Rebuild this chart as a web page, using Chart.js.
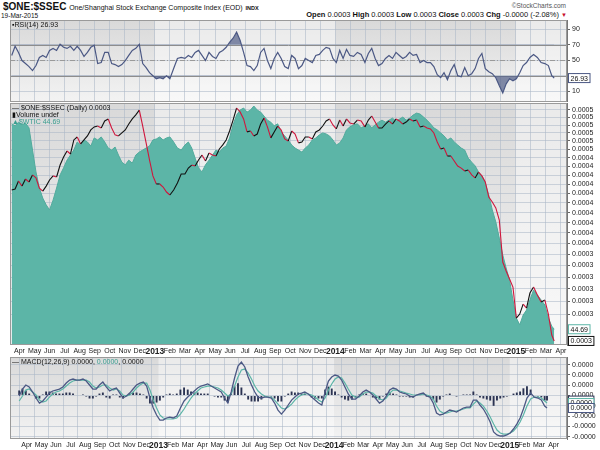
<!DOCTYPE html>
<html>
<head>
<meta charset="utf-8">
<script src="https://cdn.jsdelivr.net/npm/chart.js@4.4.1/dist/chart.umd.min.js"></script>
<style>
body{margin:0;background:#fff;width:600px;height:450px;position:relative;overflow:hidden;font-family:'Liberation Sans',Arial,sans-serif;color:#111}
canvas{position:absolute;left:0}
.t{position:absolute;white-space:nowrap;line-height:1}
</style>
</head>
<body>
<div class="t" style="left:3px;top:2px;font-size:10px;line-height:10px"><b>$ONE:$SSEC</b> <span style="font-size:7px">One/Shanghai Stock Exchange Composite Index (EOD)</span> <b style="font-size:5.5px">INDX</b></div>
<div class="t" style="left:1px;top:12px;font-size:6.5px;line-height:7px">19-Mar-2015</div>
<div class="t" style="right:34px;top:3px;font-size:6.5px;color:#555">©StockCharts.com</div>
<div class="t" style="right:33px;top:11px;font-size:7.5px;line-height:8px"><b>Open</b> 0.0003 <b>High</b> 0.0003 <b>Low</b> 0.0003 <b>Close</b> 0.0003 <b>Chg</b> -0.0000 (-2.08%) <span style="color:#c8102e;font-size:6px">&#9660;</span></div>

<canvas id="rsi" width="600" height="82" style="top:20px"></canvas>
<canvas id="main" width="600" height="254" style="top:103px"></canvas>
<canvas id="macd" width="600" height="94" style="top:357px"></canvas>

<div class="t" style="left:12px;top:21px;font-size:7px">&#9642;RSI(14) 26.93</div>
<div class="t" style="left:12px;top:104px;font-size:7px">&#8212; $ONE:$SSEC (Daily) 0.0003</div>
<div class="t" style="left:12px;top:111px;font-size:7px">&#9646;Volume undef</div>
<div class="t" style="left:12px;top:118px;font-size:7px;color:#3a9e90">&#9650;$WTIC 44.69</div>
<div class="t" style="left:12px;top:358px;font-size:7px">&#8212; MACD(12,26,9) 0.0000, <span style="color:#3a9e90">0.0000</span>, 0.0000</div>

<script>
// weekly samples (Fridays from 16-Mar-2012) plus the last day, 18-Mar-2015
const dates = [];
for (let i = 0; i < 157; i++) dates.push(new Date(2012, 2, 16 + 7 * i));
dates.push(new Date(2015, 2, 18));

// SSEC closes; the plotted symbol $ONE:$SSEC is 1 / SSEC
const ssec = [2478,2471,2419,2452,2406,2425,2380,2399,2465,2485,
  2452,2412,2386,2393,2318,2269,2233,2251,2168,2151,
  2191,2168,2145,2111,2094,2089,2100,2061,2050,2100,
  2139,2145,2128,2111,2078,2050,2028,2002,2089,2185,
  2287,2386,2438,2438,2458,2491,2511,2478,2432,2374,
  2374,2337,2318,2324,2287,2257,2293,2245,2257,2263,
  2221,2197,2168,2117,2056,1991,2012,2050,2122,2117,
  2145,2134,2078,2045,2094,2156,2122,2089,2111,2162,
  2174,2117,2134,2185,2180,2151,2151,2162,2122,2111,
  2089,2061,2050,2083,2105,2056,2089,2050,2072,2078,
  2056,2061,2094,2056,2034,2067,2100,2100,2078,2061,
  2078,2050,2061,2078,2067,2050,2061,2056,2094,2089,
  2100,2105,2128,2180,2221,2215,2263,2263,2293,2324,
  2337,2355,2349,2380,2399,2362,2386,2425,2525,2558,
  2599,2684,3002,3075,3141,3209,3486,3449,3358,3394,
  3261,3209,3278,3339,3322,3449,3647,
  3705];
const wtic = [105.8,105.2,106.3,105.5,106.0,104.6,98.0,91.5,86.7,83.7,
  81.7,80.2,83.1,86.7,90.6,92.7,95.0,96.5,98.0,100.4,
  99.5,101.0,100.4,99.2,101.6,101.0,101.9,100.4,98.6,98.0,
  98.9,96.5,94.4,93.6,95.0,94.1,96.5,97.4,98.0,98.6,
  99.2,101.0,101.3,101.9,101.0,101.6,101.9,100.4,98.6,98.0,
  99.5,100.4,98.6,95.6,92.7,91.5,93.6,95.0,96.5,98.0,
  97.4,98.6,99.2,101.6,105.5,108.4,109.9,110.5,109.3,109.9,
  111.1,109.9,109.3,108.1,106.9,106.3,105.2,105.8,103.4,102.2,
  101.0,99.5,98.6,98.0,97.4,98.6,99.5,101.0,101.6,102.5,
  103.1,102.8,102.2,101.0,99.5,100.1,101.6,104.0,104.9,105.5,
  105.8,104.6,105.2,105.8,104.6,105.5,106.3,106.9,106.3,106.9,
  107.5,106.6,107.2,107.8,106.9,107.5,108.4,109.0,108.7,107.8,
  106.9,105.8,104.6,104.0,103.1,102.2,101.0,101.6,100.4,99.5,
  98.6,98.0,95.6,94.4,93.3,91.5,90.3,88.2,84.6,80.2,
  76.6,71.8,66.8,62.9,59.3,53.4,48.0,46.0,48.9,50.4,
  53.4,56.4,54.9,53.4,51.9,48.0,45.6,
  44.69];
const rsi = [56.2,68.0,60.1,49.6,45.7,41.8,36.6,43.1,53.6,56.2,
  53.6,62.7,65.3,62.7,70.6,66.7,65.3,68.0,62.7,68.0,
  62.7,54.9,60.1,66.7,69.3,45.7,47.0,60.1,60.1,45.7,
  44.4,41.8,44.4,49.6,56.2,62.7,65.3,70.6,45.7,40.5,
  33.9,30.0,26.1,27.4,26.1,30.0,26.1,39.2,52.3,53.6,
  52.3,56.2,53.6,60.1,62.7,56.2,49.6,60.1,54.9,52.3,
  60.1,62.7,66.7,73.2,78.4,86.3,75.8,60.1,43.1,41.8,
  36.6,43.1,60.1,65.3,49.6,39.2,52.3,60.1,52.3,41.8,
  39.2,56.2,52.3,39.2,43.1,52.3,49.6,47.0,56.2,57.5,
  62.7,66.7,65.3,52.3,47.0,62.7,52.3,64.0,56.2,54.9,
  60.1,57.5,47.0,58.8,65.3,52.3,43.1,45.7,52.3,56.2,
  52.3,60.1,56.2,52.3,54.9,60.1,56.2,57.5,47.0,49.6,
  47.0,47.0,41.8,31.3,27.4,33.9,24.8,36.6,44.4,30.0,
  28.7,40.5,30.0,32.6,39.2,52.3,58.8,39.2,35.2,32.6,
  27.4,16.9,7.8,19.5,26.1,23.5,26.1,33.9,43.1,47.0,
  53.6,57.5,53.6,47.0,45.7,43.1,30.0,
  26.93];
// MACD, signal and histogram in millionths
const macd = [-0.05,0.63,1.02,0.83,0.34,-0.24,-0.73,-0.53,-0.15,0.24,
  0.44,0.53,0.63,0.83,1.21,1.50,1.60,1.50,1.50,1.60,
  1.41,1.02,0.63,0.63,1.02,1.31,0.83,0.44,0.63,0.73,
  0.24,-0.24,-0.05,0.24,0.63,1.02,1.21,1.31,0.92,-0.24,
  -1.21,-1.89,-2.38,-2.38,-2.18,-2.09,-2.18,-1.99,-1.21,-0.53,
  -0.15,0.15,0.44,0.73,0.92,1.02,1.12,0.92,0.73,0.53,
  0.34,-0.24,-0.73,0.34,1.70,2.86,3.25,2.77,1.80,1.02,
  0.34,-0.15,-0.24,-0.15,-0.15,-0.24,-0.73,-1.41,-1.80,-1.41,
  -0.92,-0.44,-0.15,0.15,0.24,0.34,0.15,-0.15,-0.44,-0.73,
  -0.92,0.34,1.41,1.80,1.99,1.89,1.50,0.83,0.15,-0.34,
  -0.34,-0.05,0.34,0.53,0.34,0.05,-0.34,-0.73,-0.53,-0.05,
  0.53,0.73,0.63,0.34,0.24,0.15,-0.05,-0.15,0.05,0.15,
  0.24,-0.05,-0.15,-0.73,-1.70,-1.89,-1.80,-1.60,-1.41,-1.50,
  -1.60,-1.41,-1.21,-1.12,-1.12,-0.44,-0.44,-0.92,-1.31,-1.89,
  -2.57,-3.54,-3.83,-3.93,-3.93,-3.83,-3.64,-3.25,-2.77,-2.18,
  -1.31,-0.24,0.24,-0.15,-0.24,-0.44,-1.02,
  -1.21];
const signal = [-0.53,-0.05,0.53,0.63,0.34,0.05,-0.44,-0.63,-0.53,-0.15,
  0.15,0.34,0.44,0.63,0.92,1.21,1.41,1.50,1.50,1.50,
  1.50,1.31,0.92,0.73,0.83,1.02,1.02,0.73,0.53,0.63,
  0.44,0.05,-0.05,0.05,0.34,0.73,1.02,1.21,1.21,0.53,
  -0.44,-1.21,-1.89,-2.18,-2.28,-2.28,-2.28,-2.18,-1.80,-1.31,
  -0.73,-0.24,0.15,0.44,0.73,0.83,0.92,0.92,0.83,0.73,
  0.53,0.24,-0.05,0.15,0.92,1.80,2.48,2.57,2.18,1.60,
  0.92,0.44,0.15,-0.05,-0.15,-0.15,-0.44,-0.83,-1.21,-1.31,
  -1.12,-0.83,-0.44,-0.15,0.05,0.15,0.15,0.05,-0.15,-0.44,
  -0.63,-0.24,0.53,1.12,1.60,1.80,1.70,1.21,0.63,0.05,
  -0.15,-0.15,0.15,0.34,0.34,0.24,-0.05,-0.34,-0.44,-0.24,
  0.24,0.53,0.53,0.44,0.34,0.24,0.15,0.05,0.05,0.05,
  0.15,0.05,-0.05,-0.34,-1.02,-1.50,-1.70,-1.70,-1.60,-1.50,
  -1.50,-1.41,-1.31,-1.21,-1.21,-0.83,-0.53,-0.73,-1.02,-1.50,
  -2.09,-2.77,-3.35,-3.64,-3.74,-3.74,-3.64,-3.45,-3.06,-2.57,
  -1.89,-1.02,-0.34,-0.15,-0.15,-0.24,-0.53,
  -0.73];
const hist = [0.49,0.68,0.49,0.19,0,-0.29,-0.29,0.1,0.39,0.39,
  0.29,0.19,0.19,0.19,0.29,0.29,0.19,0,0,0.1,
  -0.1,-0.29,-0.29,-0.1,0.19,0.29,-0.19,-0.29,0.1,0.1,
  -0.19,-0.29,0,0.19,0.29,0.29,0.19,0.1,-0.29,-0.78,
  -0.78,-0.68,-0.49,-0.19,0.1,0.19,0.1,0.19,0.58,0.78,
  0.58,0.39,0.29,0.29,0.19,0.19,0.19,0,-0.1,-0.19,
  -0.19,-0.49,-0.68,0.19,0.9,1.2,0.78,0.19,-0.39,-0.58,
  -0.58,-0.58,-0.39,-0.1,0,-0.1,-0.29,-0.58,-0.58,-0.1,
  0.19,0.39,0.29,0.29,0.19,0.19,0,-0.19,-0.29,-0.29,
  -0.29,0.58,0.87,0.68,0.39,0.1,-0.19,-0.39,-0.49,-0.39,
  -0.19,0.1,0.19,0.19,0,-0.19,-0.29,-0.39,-0.1,0.19,
  0.29,0.19,0.1,-0.1,-0.1,-0.1,-0.19,-0.19,0,0.1,
  0.1,-0.1,-0.1,-0.39,-0.68,-0.39,-0.1,0.1,0.19,0,
  -0.1,0,0.1,0.1,0.1,0.39,0.1,-0.19,-0.29,-0.39,
  -0.49,-1.0,-0.49,-0.29,-0.19,-0.1,0,0.19,0.29,0.39,
  0.7,0.9,0.58,0,-0.1,-0.19,-0.49,
  -0.49];

const priceTicks = [0.00050,0.00049,0.00048,0.00047,0.00046,0.00045,0.00044,0.00043,0.00042,0.00041,0.00040,
  0.00039,0.00038,0.00037,0.00036,0.00035,0.00034,0.00033,0.00032,0.00031,0.00030,0.00029];
const priceTickLabels = ['0.0005','0.0005','0.0005','0.0005','0.0005','0.0005','0.0004','0.0004','0.0004','0.0004','0.0004',
  '0.0004','0.0004','0.0004','0.0004','0.0004','0.0003','0.0003','0.0003','0.0003','0.0003','0.0003'];
const rsiTicks = [10,30,50,70,90];
const macdTicks = [3,2,1,0,-1,-2,-3,-4];
const macdTickLabels = ['0.0000','0.0000','0.0000','0.0000','-0.0000','-0.0000','-0.0000','-0.0000'];
const monthNames = ['2012','Feb','Mar','Apr','May','Jun','Jul','Aug','Sep','Oct','Nov','Dec'];

const X_MIN = 2.37, X_MAX = 39.4;
const TEAL = '#5cb5a7', NAVY = '#4b5884';

// months since 1-Jan-2012
function monthPos(d) {
  const dim = new Date(d.getFullYear(), d.getMonth() + 1, 0).getDate();
  return (d.getFullYear() - 2012) * 12 + d.getMonth() + (d.getDate() - 1) / dim;
}
const xs = dates.map(monthPos);
const pts = arr => arr.map((v, i) => ({x: xs[i], y: v}));
const monthTicks = [];
for (let m = 3; m <= 39; m++) monthTicks.push(m);
function monthLabel(m) {
  return m % 12 === 0 ? String(2012 + m / 12) : monthNames[m % 12];
}

// background, year shading and border
const panelBg = {
  id: 'panelBg',
  beforeDraw(chart) {
    const {ctx, chartArea: a, scales: {x}} = chart;
    const g = ctx.createLinearGradient(0, a.top, 0, a.bottom);
    g.addColorStop(0, '#d9d9d9');
    g.addColorStop(1, '#f3f3f3');
    ctx.save();
    ctx.fillStyle = g;
    ctx.fillRect(a.left, a.top, a.width, a.height);
    ctx.fillStyle = 'rgba(255,255,255,0.45)';
    [[12, 24], [36, 48]].forEach(([s, e]) => {
      const x0 = Math.max(a.left, x.getPixelForValue(s)), x1 = Math.min(a.right, x.getPixelForValue(e));
      if (x1 > x0) ctx.fillRect(x0, a.top, x1 - x0, a.height);
    });
    ctx.restore();
  },
  afterDraw(chart) {
    const {ctx, chartArea: a} = chart;
    ctx.save();
    ctx.strokeStyle = '#9a9a9a';
    ctx.lineWidth = 1;
    ctx.strokeRect(a.left + 0.5, a.top + 0.5, a.width - 1, a.height - 1);
    ctx.restore();
  }
};

// value boxes at right axis
function boxPlugin(items) {
  return {
    id: 'boxes',
    afterDraw(chart) {
      const ctx = chart.ctx;
      ctx.save();
      ctx.font = '7px "Liberation Sans"';
      ctx.textBaseline = 'middle';
      items.forEach(it => {
        const y = chart.scales[it.axis].getPixelForValue(it.value);
        const w = ctx.measureText(it.text).width + 4;
        ctx.fillStyle = '#fff';
        ctx.fillRect(568.5, y - 4.5, w, 9);
        ctx.strokeStyle = it.color;
        ctx.strokeRect(568.5, y - 4.5, w, 9);
        ctx.fillStyle = '#111';
        ctx.fillText(it.text, 570.5, y + 0.5);
      });
      ctx.restore();
    }
  };
}

function noPad(s) {
  s.paddingTop = 0; s.paddingBottom = 0; s.paddingLeft = 0; s.paddingRight = 0;
}
function xAxis(showLabels) {
  return {
    type: 'linear', min: X_MIN, max: X_MAX,
    afterBuildTicks: s => { s.ticks = monthTicks.map(v => ({value: v})); },
    afterFit: s => { s.height = showLabels ? 12 : 0; noPad(s); },
    grid: {color: 'rgba(170,182,198,0.55)', drawTicks: false},
    border: {display: false},
    ticks: {
      display: showLabels, autoSkip: false, maxRotation: 0, padding: 2, color: '#222',
      callback: v => monthLabel(v),
      font: c => (c.tick && c.tick.value % 12 === 0)
        ? {family: 'Liberation Sans', size: 8.5, weight: 'bold'}
        : {family: 'Liberation Sans', size: 7}
    }
  };
}
function yAxis(opts) {
  return Object.assign({
    position: 'right',
    afterFit: s => { s.width = 33; noPad(s); },
    grid: {color: 'rgba(170,182,198,0.55)', tickColor: '#666', tickLength: 3},
    border: {display: true, color: '#777'},
    ticks: {autoSkip: false, padding: 2, color: '#222', font: {family: 'Liberation Sans', size: 7}}
  }, opts);
}
const common = {
  animation: false, responsive: false, events: [],
  layout: {padding: {left: 10, right: 0, top: 0, bottom: 0}},
  plugins: {legend: {display: false}, tooltip: {enabled: false}},
  elements: {point: {radius: 0}}
};

// RSI panel
const rsiLines = {
  id: 'rsiLines',
  beforeDatasetsDraw(chart) {
    const {ctx, chartArea: a, scales: {y}} = chart;
    ctx.save();
    ctx.lineWidth = 1;
    ctx.strokeStyle = '#8d8d8d';
    [70, 30].forEach(v => {
      const py = Math.round(y.getPixelForValue(v)) + 0.5;
      ctx.beginPath(); ctx.moveTo(a.left, py); ctx.lineTo(a.right, py); ctx.stroke();
    });
    ctx.setLineDash([5, 2, 1, 2]);
    ctx.strokeStyle = '#9a9a9a';
    const py = Math.round(y.getPixelForValue(50)) + 0.5;
    ctx.beginPath(); ctx.moveTo(a.left, py); ctx.lineTo(a.right, py); ctx.stroke();
    ctx.restore();
  }
};
new Chart(document.getElementById('rsi'), {
  type: 'line',
  data: {datasets: [
    {data: pts(rsi), borderColor: NAVY, borderWidth: 1.2, tension: 0,
     fill: {target: {value: 30}, above: 'rgba(0,0,0,0)', below: 'rgba(90,102,140,0.75)'}},
    {data: pts(rsi), borderColor: 'rgba(0,0,0,0)', borderWidth: 0,
     fill: {target: {value: 70}, above: 'rgba(90,102,140,0.75)', below: 'rgba(0,0,0,0)'}}
  ]},
  options: Object.assign({}, common, {
    scales: {
      x: xAxis(false),
      y: yAxis({min: -4, max: 102,
        afterBuildTicks: s => { s.ticks = rsiTicks.map(v => ({value: v})); }})
    }
  }),
  plugins: [panelBg, rsiLines, boxPlugin([{axis: 'y', value: rsi[rsi.length - 1], text: '26.93', color: NAVY}])]
});

// price panel
const ratio = ssec.map(v => 1 / v);
new Chart(document.getElementById('main'), {
  type: 'line',
  data: {datasets: [
    {data: pts(ratio), yAxisID: 'y', borderWidth: 1.1, tension: 0, order: 1,
     borderColor: '#111',
     segment: {borderColor: c => c.p1.parsed.y >= c.p0.parsed.y ? '#111' : '#d0163c'}},
    {data: pts(wtic), yAxisID: 'yw', borderColor: '#52ab9d', borderWidth: 1, tension: 0, order: 2,
     backgroundColor: TEAL, fill: 'start'}
  ]},
  options: Object.assign({}, common, {
    scales: {
      x: xAxis(true),
      y: yAxis({type: 'logarithmic', min: 0.000267, max: 0.000509,
        afterBuildTicks: s => { s.ticks = priceTicks.map(v => ({value: v})); },
        ticks: {autoSkip: false, padding: 2, color: '#222', font: {family: 'Liberation Sans', size: 7},
          callback: (v, i) => priceTickLabels[i]}}),
      yw: {type: 'linear', display: false, min: 40, max: 112}
    }
  }),
  plugins: [panelBg, boxPlugin([
    {axis: 'yw', value: wtic[wtic.length - 1], text: '44.69', color: TEAL},
    {axis: 'y', value: ratio[ratio.length - 1], text: '0.0003', color: '#111'}
  ])]
});

// MACD panel
new Chart(document.getElementById('macd'), {
  type: 'bar',
  data: {datasets: [
    {type: 'line', data: pts(macd), borderColor: NAVY, borderWidth: 1.3, tension: 0, order: 1},
    {type: 'line', data: pts(signal), borderColor: TEAL, borderWidth: 1.2, tension: 0, order: 2},
    {type: 'bar', data: pts(hist), backgroundColor: '#2b3352', barPercentage: 0.8, categoryPercentage: 1, order: 3}
  ]},
  options: Object.assign({}, common, {
    scales: {
      x: xAxis(true),
      y: yAxis({min: -4.22, max: 3.74,
        afterBuildTicks: s => { s.ticks = macdTicks.map(v => ({value: v})); },
        ticks: {autoSkip: false, padding: 2, color: '#222', font: {family: 'Liberation Sans', size: 7},
          callback: (v, i) => macdTickLabels[i]}})
    }
  }),
  plugins: [panelBg, boxPlugin([
    {axis: 'y', value: hist[hist.length - 1], text: '0.0000', color: '#2b3352'},
    {axis: 'y', value: signal[signal.length - 1], text: '0.0000', color: TEAL},
    {axis: 'y', value: macd[macd.length - 1], text: '0.0000', color: NAVY}
  ])]
});
</script>
</body>
</html>
